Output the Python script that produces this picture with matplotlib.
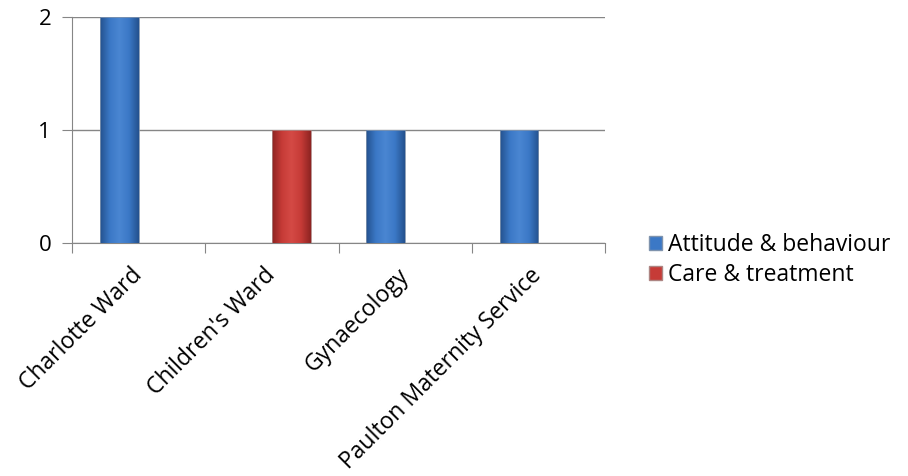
import numpy as np
import matplotlib
matplotlib.use("Agg")
import matplotlib.pyplot as plt
from matplotlib.colors import LinearSegmentedColormap
from matplotlib.patches import Patch

plt.rcParams['font.family'] = ['Open Sans', 'DejaVu Sans']

wards = ["Charlotte Ward", "Children's Ward", "Gynaecology", "Paulton Maternity Service"]
series_names = ["Attitude & behaviour", "Care & treatment"]
attitude = [2, 0, 1, 1]
care = [0, 1, 0, 0]
yticks = [0, 1, 2]

blue_cmap = LinearSegmentedColormap.from_list("b", ["#24528f", "#3b78c6", "#4a86d2", "#3b78c6", "#24528f"])
red_cmap = LinearSegmentedColormap.from_list("r", ["#8e2422", "#c63b37", "#d44a45", "#c63b37", "#8e2422"])

fig = plt.figure(figsize=(9.08, 4.76), dpi=100)
ax = fig.add_axes([0.0793, 0.4895, 0.5870, 0.4748])

x = np.arange(len(wards))
w = 0.29
grad = np.linspace(0, 1, 64).reshape(1, -1)


def shaded(bars, cmap):
    for b in bars:
        if b.get_height() == 0:
            continue
        x0, y0 = b.get_x(), b.get_y()
        im = ax.imshow(grad, cmap=cmap, aspect='auto', zorder=3,
                       extent=[x0, x0 + b.get_width(), y0, y0 + b.get_height()])
        im.set_clip_path(b)
        b.set_facecolor("none")


b1 = ax.bar(x - w / 2, attitude, w, color="#3b78c6", edgecolor="#7f93ad", linewidth=0.6,
            zorder=4, label=series_names[0])
b2 = ax.bar(x + w / 2, care, w, color="#c63b37", edgecolor="#ad8583", linewidth=0.6,
            zorder=4, label=series_names[1])
shaded(b1, blue_cmap)
shaded(b2, red_cmap)

ax.set_xlim(-0.5, len(wards) - 0.5)
ax.set_ylim(0, 2)
ax.set_yticks(yticks)
ax.set_yticklabels([str(v) for v in yticks], fontsize=16)
ax.yaxis.grid(True, color="#868686", linewidth=1)
ax.set_axisbelow(True)

ax.set_xticks(np.arange(len(wards) + 1) - 0.5, minor=False)
ax.set_xticklabels([])
ax.set_xticks(x, minor=True)
ax.set_xticklabels(wards, minor=True, rotation=45, ha='right', va='center',
                   rotation_mode='anchor', fontsize=16.5)
ax.tick_params(axis='x', which='minor', length=0, pad=21)
ax.tick_params(axis='x', which='major', length=7, color="#868686")
ax.tick_params(axis='y', length=7, color="#868686", pad=8)

for s in ['top', 'right']:
    ax.spines[s].set_visible(False)
for s in ['left', 'bottom']:
    ax.spines[s].set_color("#868686")

handles = [Patch(facecolor="#3b78c6", edgecolor="#7f93ad"), Patch(facecolor="#c63b37", edgecolor="#ad8583")]
fig.legend(handles, series_names, loc='center left', bbox_to_anchor=(0.697, 0.454),
           frameon=False, fontsize=16.5, handlelength=0.55, handleheight=0.55,
           handletextpad=0.3, labelspacing=0.25, borderpad=0.2)

fig.savefig("out.png", dpi=100)
